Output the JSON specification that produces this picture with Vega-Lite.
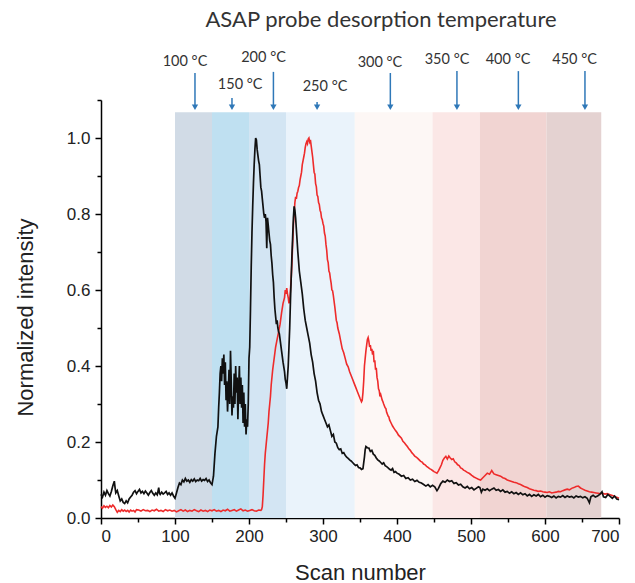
{
  "$schema": "https://vega.github.io/schema/vega-lite/v6.json",
  "width": 518,
  "height": 418,
  "autosize": {"type": "none"},
  "padding": {"left": 101, "top": 100, "right": 16, "bottom": 65},
  "background": "white",
  "title": {"text": "ASAP probe desorption temperature", "font": "Lato", "fontSize": 22, "fontWeight": "normal", "color": "#333333", "anchor": "middle", "frame": "group", "offset": 18, "dx": 21},
  "config": {"view": {"stroke": null}, "axis": {"grid": false}},
  "datasets": {
    "bands": [
      {"temp": "100 °C", "from": 100, "to": 150},
      {"temp": "150 °C", "from": 150, "to": 200},
      {"temp": "200 °C", "from": 200, "to": 250},
      {"temp": "250 °C", "from": 250, "to": 343},
      {"temp": "300 °C", "from": 343, "to": 448},
      {"temp": "350 °C", "from": 448, "to": 512},
      {"temp": "400 °C", "from": 512, "to": 602},
      {"temp": "450 °C", "from": 602, "to": 676}
    ],
    "arrows": [
      {"temp": "100 °C", "arrowAt": 127, "labelAt": 113.5, "arrowTop": 1.171, "labelY": 1.2},
      {"temp": "150 °C", "arrowAt": 177, "labelAt": 188, "arrowTop": 1.105, "labelY": 1.139},
      {"temp": "200 °C", "arrowAt": 233, "labelAt": 219.6, "arrowTop": 1.174, "labelY": 1.21},
      {"temp": "250 °C", "arrowAt": 292, "labelAt": 302.7, "arrowTop": 1.095, "labelY": 1.134},
      {"temp": "300 °C", "arrowAt": 391, "labelAt": 377, "arrowTop": 1.171, "labelY": 1.197},
      {"temp": "350 °C", "arrowAt": 481, "labelAt": 467.6, "arrowTop": 1.176, "labelY": 1.205},
      {"temp": "400 °C", "arrowAt": 564, "labelAt": 550, "arrowTop": 1.176, "labelY": 1.205},
      {"temp": "450 °C", "arrowAt": 654, "labelAt": 640, "arrowTop": 1.176, "labelY": 1.205}
    ],
    "black": [
      {"scan":0,"intensity":0.062},{"scan":2,"intensity":0.055},{"scan":4,"intensity":0.068},{"scan":6,"intensity":0.06},{"scan":8,"intensity":0.072},{"scan":10,"intensity":0.064},{"scan":12,"intensity":0.058},{"scan":14,"intensity":0.07},{"scan":16,"intensity":0.085},{"scan":18,"intensity":0.097},{"scan":19,"intensity":0.08},{"scan":20,"intensity":0.066},{"scan":22,"intensity":0.072},{"scan":24,"intensity":0.058},{"scan":26,"intensity":0.045},{"scan":28,"intensity":0.05},{"scan":30,"intensity":0.041},{"scan":32,"intensity":0.038},{"scan":34,"intensity":0.045},{"scan":36,"intensity":0.04},{"scan":38,"intensity":0.05},{"scan":40,"intensity":0.055},{"scan":42,"intensity":0.06},{"scan":44,"intensity":0.068},{"scan":46,"intensity":0.072},{"scan":48,"intensity":0.064},{"scan":50,"intensity":0.07},{"scan":52,"intensity":0.075},{"scan":54,"intensity":0.066},{"scan":56,"intensity":0.07},{"scan":58,"intensity":0.064},{"scan":60,"intensity":0.071},{"scan":62,"intensity":0.066},{"scan":64,"intensity":0.06},{"scan":66,"intensity":0.067},{"scan":68,"intensity":0.072},{"scan":70,"intensity":0.065},{"scan":72,"intensity":0.06},{"scan":74,"intensity":0.066},{"scan":76,"intensity":0.061},{"scan":78,"intensity":0.08},{"scan":79,"intensity":0.065},{"scan":80,"intensity":0.062},{"scan":82,"intensity":0.068},{"scan":84,"intensity":0.063},{"scan":86,"intensity":0.066},{"scan":88,"intensity":0.07},{"scan":90,"intensity":0.062},{"scan":92,"intensity":0.066},{"scan":94,"intensity":0.06},{"scan":96,"intensity":0.066},{"scan":98,"intensity":0.058},{"scan":100,"intensity":0.052},{"scan":102,"intensity":0.066},{"scan":104,"intensity":0.08},{"scan":106,"intensity":0.092},{"scan":108,"intensity":0.088},{"scan":110,"intensity":0.1},{"scan":112,"intensity":0.095},{"scan":114,"intensity":0.104},{"scan":116,"intensity":0.097},{"scan":118,"intensity":0.1},{"scan":120,"intensity":0.094},{"scan":122,"intensity":0.101},{"scan":124,"intensity":0.097},{"scan":126,"intensity":0.103},{"scan":128,"intensity":0.096},{"scan":130,"intensity":0.1},{"scan":132,"intensity":0.098},{"scan":134,"intensity":0.104},{"scan":136,"intensity":0.097},{"scan":138,"intensity":0.101},{"scan":140,"intensity":0.099},{"scan":142,"intensity":0.104},{"scan":144,"intensity":0.096},{"scan":146,"intensity":0.1},{"scan":148,"intensity":0.093},{"scan":150,"intensity":0.088},{"scan":152,"intensity":0.11},{"scan":154,"intensity":0.17},{"scan":156,"intensity":0.215},{"scan":158,"intensity":0.24},{"scan":159,"intensity":0.29},{"scan":160,"intensity":0.33},{"scan":161,"intensity":0.38},{"scan":162,"intensity":0.4},{"scan":163,"intensity":0.36},{"scan":164,"intensity":0.42},{"scan":165,"intensity":0.38},{"scan":166,"intensity":0.43},{"scan":167,"intensity":0.35},{"scan":168,"intensity":0.41},{"scan":169,"intensity":0.31},{"scan":170,"intensity":0.36},{"scan":171,"intensity":0.28},{"scan":172,"intensity":0.33},{"scan":173,"intensity":0.39},{"scan":174,"intensity":0.3},{"scan":175,"intensity":0.44},{"scan":176,"intensity":0.36},{"scan":177,"intensity":0.27},{"scan":178,"intensity":0.32},{"scan":179,"intensity":0.29},{"scan":180,"intensity":0.38},{"scan":181,"intensity":0.3},{"scan":182,"intensity":0.4},{"scan":183,"intensity":0.33},{"scan":184,"intensity":0.37},{"scan":185,"intensity":0.26},{"scan":186,"intensity":0.34},{"scan":187,"intensity":0.4},{"scan":188,"intensity":0.3},{"scan":189,"intensity":0.37},{"scan":190,"intensity":0.29},{"scan":191,"intensity":0.35},{"scan":192,"intensity":0.25},{"scan":193,"intensity":0.33},{"scan":194,"intensity":0.24},{"scan":195,"intensity":0.3},{"scan":196,"intensity":0.22},{"scan":197,"intensity":0.26},{"scan":198,"intensity":0.24},{"scan":199,"intensity":0.3},{"scan":200,"intensity":0.42},{"scan":201,"intensity":0.45},{"scan":202,"intensity":0.55},{"scan":203,"intensity":0.66},{"scan":204,"intensity":0.75},{"scan":205,"intensity":0.82},{"scan":206,"intensity":0.88},{"scan":207,"intensity":0.93},{"scan":208,"intensity":0.97},{"scan":209,"intensity":1.0},{"scan":210,"intensity":0.995},{"scan":211,"intensity":0.97},{"scan":212,"intensity":0.955},{"scan":213,"intensity":0.94},{"scan":214,"intensity":0.93},{"scan":215,"intensity":0.9},{"scan":216,"intensity":0.87},{"scan":217,"intensity":0.86},{"scan":218,"intensity":0.84},{"scan":219,"intensity":0.82},{"scan":220,"intensity":0.8},{"scan":221,"intensity":0.79},{"scan":222,"intensity":0.8},{"scan":223,"intensity":0.78},{"scan":224,"intensity":0.71},{"scan":225,"intensity":0.79},{"scan":226,"intensity":0.77},{"scan":227,"intensity":0.75},{"scan":228,"intensity":0.73},{"scan":229,"intensity":0.72},{"scan":230,"intensity":0.69},{"scan":231,"intensity":0.67},{"scan":232,"intensity":0.64},{"scan":233,"intensity":0.62},{"scan":234,"intensity":0.58},{"scan":235,"intensity":0.55},{"scan":236,"intensity":0.53},{"scan":237,"intensity":0.51},{"scan":238,"intensity":0.52},{"scan":239,"intensity":0.5},{"scan":240,"intensity":0.49},{"scan":241,"intensity":0.485},{"scan":242,"intensity":0.47},{"scan":244,"intensity":0.44},{"scan":246,"intensity":0.41},{"scan":248,"intensity":0.385},{"scan":249,"intensity":0.365},{"scan":250,"intensity":0.355},{"scan":251,"intensity":0.34},{"scan":252,"intensity":0.37},{"scan":253,"intensity":0.4},{"scan":254,"intensity":0.45},{"scan":255,"intensity":0.5},{"scan":256,"intensity":0.57},{"scan":257,"intensity":0.63},{"scan":258,"intensity":0.69},{"scan":259,"intensity":0.74},{"scan":260,"intensity":0.79},{"scan":261,"intensity":0.82},{"scan":262,"intensity":0.81},{"scan":263,"intensity":0.79},{"scan":264,"intensity":0.76},{"scan":266,"intensity":0.7},{"scan":268,"intensity":0.65},{"scan":270,"intensity":0.62},{"scan":272,"intensity":0.59},{"scan":274,"intensity":0.55},{"scan":276,"intensity":0.52},{"scan":278,"intensity":0.5},{"scan":280,"intensity":0.48},{"scan":282,"intensity":0.46},{"scan":284,"intensity":0.43},{"scan":286,"intensity":0.41},{"scan":288,"intensity":0.38},{"scan":290,"intensity":0.36},{"scan":292,"intensity":0.33},{"scan":294,"intensity":0.31},{"scan":296,"intensity":0.3},{"scan":298,"intensity":0.28},{"scan":300,"intensity":0.27},{"scan":302,"intensity":0.26},{"scan":304,"intensity":0.25},{"scan":306,"intensity":0.24},{"scan":308,"intensity":0.245},{"scan":310,"intensity":0.23},{"scan":312,"intensity":0.215},{"scan":314,"intensity":0.22},{"scan":316,"intensity":0.2},{"scan":318,"intensity":0.197},{"scan":320,"intensity":0.185},{"scan":322,"intensity":0.18},{"scan":324,"intensity":0.182},{"scan":326,"intensity":0.17},{"scan":328,"intensity":0.172},{"scan":330,"intensity":0.165},{"scan":332,"intensity":0.16},{"scan":334,"intensity":0.157},{"scan":336,"intensity":0.153},{"scan":338,"intensity":0.15},{"scan":340,"intensity":0.146},{"scan":342,"intensity":0.142},{"scan":344,"intensity":0.138},{"scan":346,"intensity":0.14},{"scan":348,"intensity":0.133},{"scan":350,"intensity":0.132},{"scan":352,"intensity":0.128},{"scan":354,"intensity":0.13},{"scan":356,"intensity":0.16},{"scan":357,"intensity":0.18},{"scan":358,"intensity":0.188},{"scan":360,"intensity":0.185},{"scan":362,"intensity":0.184},{"scan":364,"intensity":0.175},{"scan":366,"intensity":0.178},{"scan":368,"intensity":0.168},{"scan":370,"intensity":0.165},{"scan":372,"intensity":0.158},{"scan":374,"intensity":0.153},{"scan":376,"intensity":0.15},{"scan":378,"intensity":0.146},{"scan":380,"intensity":0.142},{"scan":382,"intensity":0.145},{"scan":384,"intensity":0.138},{"scan":386,"intensity":0.135},{"scan":388,"intensity":0.132},{"scan":390,"intensity":0.128},{"scan":392,"intensity":0.126},{"scan":394,"intensity":0.13},{"scan":396,"intensity":0.12},{"scan":398,"intensity":0.122},{"scan":400,"intensity":0.118},{"scan":403,"intensity":0.115},{"scan":406,"intensity":0.11},{"scan":409,"intensity":0.112},{"scan":412,"intensity":0.104},{"scan":415,"intensity":0.106},{"scan":418,"intensity":0.1},{"scan":421,"intensity":0.102},{"scan":424,"intensity":0.096},{"scan":427,"intensity":0.099},{"scan":430,"intensity":0.094},{"scan":433,"intensity":0.092},{"scan":436,"intensity":0.088},{"scan":439,"intensity":0.084},{"scan":442,"intensity":0.088},{"scan":445,"intensity":0.082},{"scan":448,"intensity":0.086},{"scan":451,"intensity":0.082},{"scan":454,"intensity":0.072},{"scan":456,"intensity":0.078},{"scan":459,"intensity":0.09},{"scan":462,"intensity":0.097},{"scan":465,"intensity":0.094},{"scan":468,"intensity":0.1},{"scan":471,"intensity":0.096},{"scan":474,"intensity":0.098},{"scan":477,"intensity":0.091},{"scan":480,"intensity":0.093},{"scan":483,"intensity":0.087},{"scan":486,"intensity":0.089},{"scan":489,"intensity":0.082},{"scan":492,"intensity":0.079},{"scan":495,"intensity":0.083},{"scan":498,"intensity":0.077},{"scan":501,"intensity":0.08},{"scan":504,"intensity":0.074},{"scan":507,"intensity":0.078},{"scan":510,"intensity":0.082},{"scan":512,"intensity":0.08},{"scan":514,"intensity":0.068},{"scan":516,"intensity":0.076},{"scan":519,"intensity":0.073},{"scan":522,"intensity":0.077},{"scan":525,"intensity":0.072},{"scan":528,"intensity":0.076},{"scan":531,"intensity":0.079},{"scan":534,"intensity":0.073},{"scan":537,"intensity":0.075},{"scan":540,"intensity":0.07},{"scan":543,"intensity":0.074},{"scan":546,"intensity":0.068},{"scan":549,"intensity":0.07},{"scan":552,"intensity":0.065},{"scan":555,"intensity":0.069},{"scan":558,"intensity":0.064},{"scan":561,"intensity":0.067},{"scan":564,"intensity":0.062},{"scan":567,"intensity":0.066},{"scan":570,"intensity":0.061},{"scan":573,"intensity":0.064},{"scan":576,"intensity":0.058},{"scan":579,"intensity":0.062},{"scan":582,"intensity":0.057},{"scan":585,"intensity":0.061},{"scan":588,"intensity":0.058},{"scan":591,"intensity":0.062},{"scan":594,"intensity":0.056},{"scan":597,"intensity":0.06},{"scan":600,"intensity":0.055},{"scan":603,"intensity":0.059},{"scan":606,"intensity":0.057},{"scan":609,"intensity":0.054},{"scan":612,"intensity":0.058},{"scan":615,"intensity":0.053},{"scan":618,"intensity":0.057},{"scan":621,"intensity":0.055},{"scan":624,"intensity":0.059},{"scan":627,"intensity":0.054},{"scan":630,"intensity":0.058},{"scan":633,"intensity":0.055},{"scan":636,"intensity":0.057},{"scan":639,"intensity":0.053},{"scan":642,"intensity":0.058},{"scan":645,"intensity":0.055},{"scan":648,"intensity":0.057},{"scan":651,"intensity":0.053},{"scan":654,"intensity":0.056},{"scan":657,"intensity":0.052},{"scan":660,"intensity":0.04},{"scan":662,"intensity":0.056},{"scan":665,"intensity":0.06},{"scan":668,"intensity":0.055},{"scan":671,"intensity":0.058},{"scan":674,"intensity":0.062},{"scan":677,"intensity":0.069},{"scan":679,"intensity":0.056},{"scan":682,"intensity":0.054},{"scan":685,"intensity":0.062},{"scan":688,"intensity":0.057},{"scan":691,"intensity":0.052},{"scan":694,"intensity":0.058},{"scan":697,"intensity":0.05},{"scan":700,"intensity":0.048}
    ],
    "red": [
      {"scan":0,"intensity":0.03},{"scan":2,"intensity":0.026},{"scan":4,"intensity":0.032},{"scan":6,"intensity":0.028},{"scan":8,"intensity":0.031},{"scan":10,"intensity":0.027},{"scan":12,"intensity":0.033},{"scan":14,"intensity":0.029},{"scan":16,"intensity":0.034},{"scan":18,"intensity":0.03},{"scan":20,"intensity":0.022},{"scan":22,"intensity":0.015},{"scan":24,"intensity":0.02},{"scan":26,"intensity":0.017},{"scan":28,"intensity":0.022},{"scan":30,"intensity":0.018},{"scan":32,"intensity":0.021},{"scan":34,"intensity":0.017},{"scan":36,"intensity":0.02},{"scan":38,"intensity":0.016},{"scan":40,"intensity":0.021},{"scan":42,"intensity":0.018},{"scan":44,"intensity":0.02},{"scan":46,"intensity":0.016},{"scan":48,"intensity":0.022},{"scan":51,"intensity":0.021},{"scan":54,"intensity":0.018},{"scan":57,"intensity":0.022},{"scan":60,"intensity":0.019},{"scan":63,"intensity":0.02},{"scan":66,"intensity":0.017},{"scan":69,"intensity":0.021},{"scan":72,"intensity":0.019},{"scan":75,"intensity":0.023},{"scan":78,"intensity":0.018},{"scan":81,"intensity":0.02},{"scan":84,"intensity":0.017},{"scan":87,"intensity":0.022},{"scan":90,"intensity":0.019},{"scan":93,"intensity":0.021},{"scan":96,"intensity":0.018},{"scan":99,"intensity":0.02},{"scan":102,"intensity":0.016},{"scan":105,"intensity":0.019},{"scan":108,"intensity":0.022},{"scan":111,"intensity":0.018},{"scan":114,"intensity":0.021},{"scan":117,"intensity":0.017},{"scan":120,"intensity":0.02},{"scan":123,"intensity":0.018},{"scan":126,"intensity":0.022},{"scan":129,"intensity":0.019},{"scan":132,"intensity":0.017},{"scan":135,"intensity":0.021},{"scan":138,"intensity":0.018},{"scan":141,"intensity":0.02},{"scan":144,"intensity":0.017},{"scan":147,"intensity":0.021},{"scan":150,"intensity":0.019},{"scan":153,"intensity":0.022},{"scan":156,"intensity":0.018},{"scan":159,"intensity":0.02},{"scan":162,"intensity":0.017},{"scan":165,"intensity":0.021},{"scan":168,"intensity":0.019},{"scan":171,"intensity":0.023},{"scan":174,"intensity":0.018},{"scan":177,"intensity":0.02},{"scan":180,"intensity":0.022},{"scan":183,"intensity":0.018},{"scan":186,"intensity":0.021},{"scan":189,"intensity":0.024},{"scan":192,"intensity":0.019},{"scan":195,"intensity":0.021},{"scan":198,"intensity":0.018},{"scan":201,"intensity":0.02},{"scan":204,"intensity":0.022},{"scan":207,"intensity":0.019},{"scan":210,"intensity":0.018},{"scan":213,"intensity":0.021},{"scan":216,"intensity":0.02},{"scan":217,"intensity":0.022},{"scan":218,"intensity":0.03},{"scan":219,"intensity":0.06},{"scan":220,"intensity":0.1},{"scan":221,"intensity":0.14},{"scan":222,"intensity":0.17},{"scan":223,"intensity":0.19},{"scan":224,"intensity":0.21},{"scan":225,"intensity":0.23},{"scan":226,"intensity":0.25},{"scan":227,"intensity":0.28},{"scan":228,"intensity":0.3},{"scan":229,"intensity":0.32},{"scan":230,"intensity":0.35},{"scan":232,"intensity":0.39},{"scan":234,"intensity":0.42},{"scan":236,"intensity":0.45},{"scan":238,"intensity":0.47},{"scan":240,"intensity":0.49},{"scan":242,"intensity":0.51},{"scan":244,"intensity":0.54},{"scan":246,"intensity":0.565},{"scan":248,"intensity":0.58},{"scan":249,"intensity":0.6},{"scan":250,"intensity":0.59},{"scan":251,"intensity":0.605},{"scan":252,"intensity":0.59},{"scan":253,"intensity":0.58},{"scan":254,"intensity":0.565},{"scan":255,"intensity":0.57},{"scan":256,"intensity":0.6},{"scan":257,"intensity":0.63},{"scan":258,"intensity":0.67},{"scan":259,"intensity":0.72},{"scan":260,"intensity":0.77},{"scan":261,"intensity":0.8},{"scan":262,"intensity":0.83},{"scan":263,"intensity":0.845},{"scan":264,"intensity":0.84},{"scan":265,"intensity":0.855},{"scan":266,"intensity":0.86},{"scan":267,"intensity":0.87},{"scan":268,"intensity":0.875},{"scan":269,"intensity":0.89},{"scan":270,"intensity":0.9},{"scan":271,"intensity":0.91},{"scan":272,"intensity":0.93},{"scan":273,"intensity":0.94},{"scan":274,"intensity":0.95},{"scan":275,"intensity":0.96},{"scan":276,"intensity":0.975},{"scan":277,"intensity":0.985},{"scan":278,"intensity":0.99},{"scan":279,"intensity":0.985},{"scan":280,"intensity":0.997},{"scan":281,"intensity":1.0},{"scan":282,"intensity":0.99},{"scan":283,"intensity":0.995},{"scan":284,"intensity":0.98},{"scan":285,"intensity":0.965},{"scan":286,"intensity":0.95},{"scan":287,"intensity":0.93},{"scan":288,"intensity":0.91},{"scan":289,"intensity":0.905},{"scan":290,"intensity":0.88},{"scan":291,"intensity":0.872},{"scan":292,"intensity":0.85},{"scan":293,"intensity":0.846},{"scan":294,"intensity":0.83},{"scan":295,"intensity":0.825},{"scan":296,"intensity":0.81},{"scan":297,"intensity":0.805},{"scan":298,"intensity":0.79},{"scan":299,"intensity":0.785},{"scan":300,"intensity":0.775},{"scan":301,"intensity":0.768},{"scan":302,"intensity":0.75},{"scan":303,"intensity":0.742},{"scan":304,"intensity":0.72},{"scan":305,"intensity":0.705},{"scan":306,"intensity":0.68},{"scan":307,"intensity":0.672},{"scan":308,"intensity":0.65},{"scan":309,"intensity":0.645},{"scan":310,"intensity":0.63},{"scan":311,"intensity":0.618},{"scan":312,"intensity":0.6},{"scan":313,"intensity":0.598},{"scan":314,"intensity":0.585},{"scan":315,"intensity":0.57},{"scan":316,"intensity":0.555},{"scan":317,"intensity":0.538},{"scan":318,"intensity":0.52},{"scan":319,"intensity":0.514},{"scan":320,"intensity":0.5},{"scan":322,"intensity":0.485},{"scan":324,"intensity":0.465},{"scan":326,"intensity":0.445},{"scan":327,"intensity":0.44},{"scan":328,"intensity":0.435},{"scan":330,"intensity":0.42},{"scan":332,"intensity":0.405},{"scan":334,"intensity":0.398},{"scan":336,"intensity":0.385},{"scan":338,"intensity":0.375},{"scan":340,"intensity":0.365},{"scan":342,"intensity":0.355},{"scan":344,"intensity":0.345},{"scan":346,"intensity":0.335},{"scan":348,"intensity":0.325},{"scan":350,"intensity":0.315},{"scan":352,"intensity":0.306},{"scan":353,"intensity":0.31},{"scan":354,"intensity":0.33},{"scan":355,"intensity":0.36},{"scan":356,"intensity":0.4},{"scan":357,"intensity":0.42},{"scan":358,"intensity":0.44},{"scan":359,"intensity":0.455},{"scan":360,"intensity":0.47},{"scan":361,"intensity":0.475},{"scan":362,"intensity":0.465},{"scan":363,"intensity":0.45},{"scan":364,"intensity":0.455},{"scan":365,"intensity":0.44},{"scan":366,"intensity":0.445},{"scan":367,"intensity":0.43},{"scan":368,"intensity":0.44},{"scan":369,"intensity":0.41},{"scan":370,"intensity":0.415},{"scan":371,"intensity":0.39},{"scan":372,"intensity":0.395},{"scan":373,"intensity":0.37},{"scan":374,"intensity":0.36},{"scan":375,"intensity":0.34},{"scan":376,"intensity":0.335},{"scan":377,"intensity":0.32},{"scan":378,"intensity":0.325},{"scan":380,"intensity":0.31},{"scan":381,"intensity":0.306},{"scan":382,"intensity":0.3},{"scan":384,"intensity":0.29},{"scan":385,"intensity":0.288},{"scan":386,"intensity":0.278},{"scan":388,"intensity":0.268},{"scan":389,"intensity":0.266},{"scan":390,"intensity":0.258},{"scan":392,"intensity":0.25},{"scan":394,"intensity":0.242},{"scan":396,"intensity":0.236},{"scan":398,"intensity":0.23},{"scan":400,"intensity":0.225},{"scan":402,"intensity":0.218},{"scan":404,"intensity":0.214},{"scan":406,"intensity":0.21},{"scan":408,"intensity":0.202},{"scan":410,"intensity":0.198},{"scan":412,"intensity":0.193},{"scan":414,"intensity":0.188},{"scan":416,"intensity":0.182},{"scan":418,"intensity":0.178},{"scan":420,"intensity":0.172},{"scan":422,"intensity":0.168},{"scan":424,"intensity":0.163},{"scan":426,"intensity":0.16},{"scan":428,"intensity":0.157},{"scan":430,"intensity":0.153},{"scan":432,"intensity":0.149},{"scan":434,"intensity":0.147},{"scan":436,"intensity":0.142},{"scan":438,"intensity":0.14},{"scan":440,"intensity":0.136},{"scan":442,"intensity":0.133},{"scan":444,"intensity":0.13},{"scan":446,"intensity":0.128},{"scan":448,"intensity":0.125},{"scan":450,"intensity":0.122},{"scan":452,"intensity":0.12},{"scan":454,"intensity":0.118},{"scan":456,"intensity":0.124},{"scan":458,"intensity":0.132},{"scan":460,"intensity":0.14},{"scan":462,"intensity":0.152},{"scan":464,"intensity":0.158},{"scan":466,"intensity":0.162},{"scan":468,"intensity":0.155},{"scan":470,"intensity":0.163},{"scan":472,"intensity":0.158},{"scan":474,"intensity":0.154},{"scan":476,"intensity":0.156},{"scan":478,"intensity":0.148},{"scan":480,"intensity":0.145},{"scan":482,"intensity":0.14},{"scan":484,"intensity":0.138},{"scan":486,"intensity":0.132},{"scan":488,"intensity":0.13},{"scan":490,"intensity":0.126},{"scan":492,"intensity":0.124},{"scan":495,"intensity":0.12},{"scan":498,"intensity":0.117},{"scan":501,"intensity":0.112},{"scan":504,"intensity":0.108},{"scan":507,"intensity":0.105},{"scan":510,"intensity":0.102},{"scan":513,"intensity":0.1},{"scan":516,"intensity":0.106},{"scan":519,"intensity":0.112},{"scan":522,"intensity":0.118},{"scan":525,"intensity":0.115},{"scan":528,"intensity":0.125},{"scan":531,"intensity":0.116},{"scan":534,"intensity":0.114},{"scan":537,"intensity":0.112},{"scan":540,"intensity":0.11},{"scan":543,"intensity":0.106},{"scan":546,"intensity":0.104},{"scan":549,"intensity":0.1},{"scan":552,"intensity":0.098},{"scan":555,"intensity":0.096},{"scan":558,"intensity":0.094},{"scan":561,"intensity":0.093},{"scan":564,"intensity":0.09},{"scan":567,"intensity":0.088},{"scan":570,"intensity":0.085},{"scan":573,"intensity":0.082},{"scan":576,"intensity":0.08},{"scan":579,"intensity":0.077},{"scan":582,"intensity":0.075},{"scan":585,"intensity":0.073},{"scan":588,"intensity":0.072},{"scan":591,"intensity":0.07},{"scan":594,"intensity":0.071},{"scan":597,"intensity":0.069},{"scan":600,"intensity":0.068},{"scan":603,"intensity":0.067},{"scan":606,"intensity":0.069},{"scan":609,"intensity":0.066},{"scan":612,"intensity":0.067},{"scan":615,"intensity":0.068},{"scan":618,"intensity":0.07},{"scan":621,"intensity":0.069},{"scan":624,"intensity":0.072},{"scan":627,"intensity":0.074},{"scan":630,"intensity":0.076},{"scan":633,"intensity":0.074},{"scan":636,"intensity":0.078},{"scan":639,"intensity":0.08},{"scan":642,"intensity":0.083},{"scan":645,"intensity":0.084},{"scan":648,"intensity":0.079},{"scan":651,"intensity":0.076},{"scan":654,"intensity":0.073},{"scan":657,"intensity":0.071},{"scan":660,"intensity":0.069},{"scan":663,"intensity":0.068},{"scan":666,"intensity":0.067},{"scan":669,"intensity":0.066},{"scan":672,"intensity":0.065},{"scan":675,"intensity":0.064},{"scan":678,"intensity":0.065},{"scan":681,"intensity":0.063},{"scan":684,"intensity":0.064},{"scan":687,"intensity":0.062},{"scan":690,"intensity":0.06},{"scan":693,"intensity":0.058},{"scan":696,"intensity":0.055},{"scan":700,"intensity":0.052}
    ]
  },
  "resolve": {"axis": {"x": "independent", "y": "independent"}},
  "layer": [
    {
      "data": {"name": "bands"},
      "mark": {"type": "rect"},
      "encoding": {
        "x": {"field": "from", "type": "quantitative", "scale": {"domain": [0, 700], "nice": false, "zero": false},
          "axis": {"orient": "bottom", "values": [0,100,200,300,400,500,600,700], "title": "Scan number", "titleFont": "Liberation Sans", "titleFontSize": 22, "titleFontWeight": "normal", "titleColor": "#222222", "titlePadding": 18,
            "labelFont": "Liberation Sans", "labelFontSize": 17, "labelColor": "#222222", "labelPadding": 4, "tickSize": 6, "tickWidth": 1.5, "tickColor": "#000000", "domainColor": "#000000", "domainWidth": 1.5, "grid": false}},
        "x2": {"field": "to"},
        "y": {"datum": 0, "type": "quantitative", "scale": {"domain": [0, 1.1], "nice": false, "zero": false},
          "axis": {"orient": "left", "values": [0,0.2,0.4,0.6,0.8,1.0], "format": ".1f", "title": "Normalized intensity", "titleFont": "Liberation Sans", "titleFontSize": 22, "titleFontWeight": "normal", "titleColor": "#222222", "titlePadding": 29, "titleY": 217,
            "labelFont": "Liberation Sans", "labelFontSize": 17, "labelColor": "#222222", "labelPadding": 5, "tickSize": 6, "tickWidth": 1.5, "tickColor": "#000000", "domainColor": "#000000", "domainWidth": 1.5, "grid": false}},
        "y2": {"datum": 1.068},
        "color": {"field": "temp", "type": "nominal", "legend": null,
          "scale": {"domain": ["100 °C","150 °C","200 °C","250 °C","300 °C","350 °C","400 °C","450 °C"], "range": ["#d1dbe6","#bfe0f1","#d3e5f3","#eaf3fb","#fdf7f5","#fbe7e6","#f1d4d2","#e4d2d1"]}}
      }
    },
    {
      "data": {"name": "red"},
      "mark": {"type": "line", "color": "#ee2b2b", "strokeWidth": 1.6},
      "encoding": {
        "x": {"field": "scan", "type": "quantitative",
          "axis": {"orient": "bottom", "values": [50,150,250,350,450,550,650], "labels": false, "domain": false, "title": null, "tickSize": 4, "tickWidth": 1.5, "tickColor": "#000000", "grid": false}},
        "y": {"field": "intensity", "type": "quantitative",
          "axis": {"orient": "left", "values": [0.1,0.3,0.5,0.7,0.9,1.1], "labels": false, "domain": false, "title": null, "tickSize": 4, "tickWidth": 1.5, "tickColor": "#000000", "grid": false}}
      }
    },
    {
      "data": {"name": "black"},
      "mark": {"type": "line", "color": "#111111", "strokeWidth": 1.7},
      "encoding": {
        "x": {"field": "scan", "type": "quantitative", "axis": null},
        "y": {"field": "intensity", "type": "quantitative", "axis": null}
      }
    },
    {
      "data": {"name": "arrows"},
      "mark": {"type": "rule", "color": "#2f78b8", "strokeWidth": 1.5},
      "encoding": {
        "x": {"field": "arrowAt", "type": "quantitative", "axis": null},
        "y": {"field": "arrowTop", "type": "quantitative", "axis": null},
        "y2": {"datum": 1.085}
      }
    },
    {
      "data": {"name": "arrows"},
      "mark": {"type": "point", "shape": "triangle-down", "filled": true, "color": "#2f78b8", "size": 40, "opacity": 1},
      "encoding": {
        "x": {"field": "arrowAt", "type": "quantitative", "axis": null},
        "y": {"datum": 1.081, "type": "quantitative", "axis": null}
      }
    },
    {
      "data": {"name": "arrows"},
      "mark": {"type": "text", "font": "Lato", "fontSize": 14.5, "color": "#333333", "baseline": "middle", "align": "center"},
      "encoding": {
        "x": {"field": "labelAt", "type": "quantitative", "axis": null},
        "y": {"field": "labelY", "type": "quantitative", "axis": null},
        "text": {"field": "temp"}
      }
    }
  ]
}
